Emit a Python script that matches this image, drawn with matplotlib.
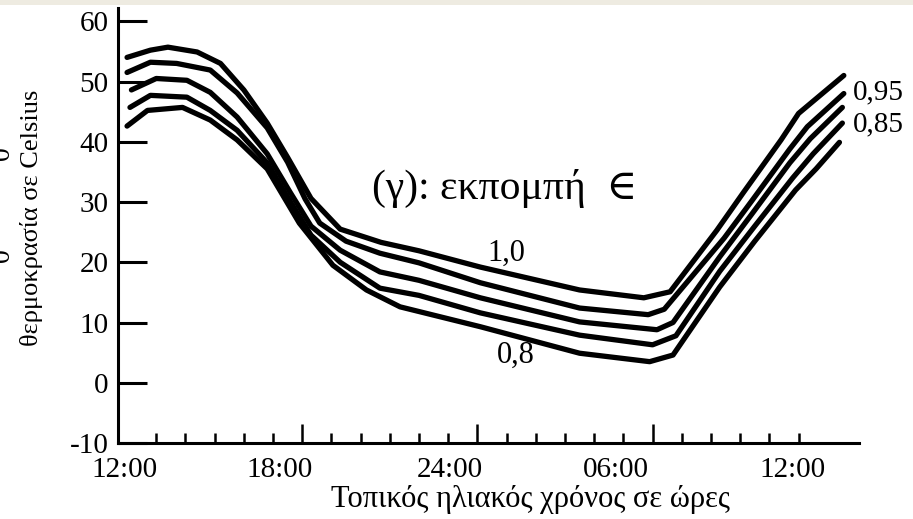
import matplotlib
matplotlib.use("Agg")
import matplotlib.pyplot as plt
from matplotlib.patches import Rectangle

plt.rcParams['font.family'] = ['Liberation Serif', 'DejaVu Serif']

# ---- data (hours after local solar noon, temperature in Celsius) ----
hours_10 = [0.0, 0.8, 1.4, 2.4, 3.2, 4.0, 4.8, 5.5, 6.3, 7.3, 8.7, 10.0, 12.1, 15.5, 17.7, 18.6, 20.2, 21.1, 22.4, 23.0, 24.55]
temp_10 = [54.0, 55.2, 55.7, 54.9, 53.0, 48.6, 43.1, 37.4, 30.6, 25.5, 23.3, 21.9, 19.2, 15.4, 14.1, 15.1, 25.3, 31.5, 40.3, 44.7, 51.0]

hours_095 = [0.0, 0.8, 1.7, 2.85, 3.77, 4.8, 5.5, 6.1, 6.6, 7.5, 8.66, 10.0, 12.1, 15.5, 17.85, 18.4, 20.45, 21.4, 22.7, 23.3, 24.55]
temp_095 = [51.5, 53.2, 53.0, 51.9, 48.1, 42.3, 36.6, 30.5, 26.5, 23.5, 21.5, 19.9, 16.6, 12.4, 11.3, 12.2, 24.0, 30.2, 38.8, 42.5, 48.0]

hours_09 = [0.15, 1.0, 2.05, 2.85, 3.77, 4.8, 5.6, 6.3, 7.3, 8.66, 10.0, 12.1, 15.5, 18.15, 18.7, 20.3, 21.4, 22.7, 23.4, 24.5]
temp_09 = [48.6, 50.5, 50.2, 48.2, 44.1, 38.0, 31.5, 26.0, 22.0, 18.4, 17.0, 14.1, 10.1, 8.8, 10.0, 20.9, 28.0, 36.5, 40.5, 45.7]

hours_085 = [0.1, 0.8, 2.05, 2.85, 3.77, 4.8, 5.6, 6.3, 7.3, 8.66, 10.0, 12.1, 15.5, 18.0, 18.8, 20.3, 21.5, 22.8, 23.5, 24.5]
temp_085 = [45.7, 47.7, 47.4, 45.2, 41.9, 36.5, 30.0, 24.5, 20.0, 15.7, 14.5, 11.6, 7.9, 6.3, 7.8, 18.5, 26.0, 34.0, 38.0, 43.1]

hours_08 = [0.0, 0.7, 1.9, 2.85, 3.77, 4.8, 5.9, 7.05, 8.2, 9.35, 12.1, 15.5, 17.9, 18.7, 20.3, 21.5, 22.9, 23.6, 24.4]
temp_08 = [42.6, 45.2, 45.7, 43.6, 40.3, 35.5, 26.5, 19.5, 15.4, 12.6, 9.3, 4.9, 3.5, 4.6, 15.9, 23.5, 32.0, 35.5, 39.9]

series = [(hours_10, temp_10), (hours_095, temp_095), (hours_09, temp_09),
          (hours_085, temp_085), (hours_08, temp_08)]

y_ticks = [-10, 0, 10, 20, 30, 40, 50, 60]
x_tick_labels = ['12:00', '18:00', '24:00', '06:00', '12:00']
x_label_pos = [-0.1, 5.24, 11.06, 16.75, 22.8]
hour_ticks = [1, 2, 3, 4, 5, 7, 8, 9, 10, 11, 13, 14, 15, 16, 17, 19, 20, 21, 22, 23]
long_ticks = [6, 12, 18]

# ---- figure ----
W, H = 913, 519
fig = plt.figure(figsize=(W / 100, H / 100), dpi=100)
fig.patch.set_facecolor('white')
fig.patches.append(Rectangle((0, 1 - 5 / H), 1, 5 / H, transform=fig.transFigure,
                             facecolor='#eeebe1', edgecolor='none', zorder=0))

ax = fig.add_axes([118 / W, 1 - 443 / H, (859 - 118) / W, (443 - 8) / H])
ax.set_xlim(-0.31, 25.07)
ax.set_ylim(-10, 62.2)

for hx, ty in series:
    ax.plot(hx, ty, color='black', lw=3.8, solid_joinstyle='round',
            solid_capstyle='round', clip_on=False)

for s in ['top', 'right']:
    ax.spines[s].set_visible(False)
for s in ['left', 'bottom']:
    ax.spines[s].set_linewidth(2.2)

ax.set_yticks(y_ticks)
ax.set_yticklabels([str(v) for v in y_ticks])
ax.tick_params(axis='y', direction='in', length=21, width=2.2, pad=7, labelsize=21)

ax.set_xticks(hour_ticks)
ax.set_xticklabels([])
ax.tick_params(axis='x', direction='in', length=7.5, width=1.8)

sec_long = ax.secondary_xaxis('bottom')
sec_long.set_xticks(long_ticks)
sec_long.set_xticklabels([])
sec_long.tick_params(direction='in', length=13.5, width=1.8)
sec_long.spines['bottom'].set_visible(False)

sec_lab = ax.secondary_xaxis('bottom')
sec_lab.set_xticks(x_label_pos)
sec_lab.set_xticklabels(x_tick_labels)
sec_lab.tick_params(length=0, pad=10, labelsize=21)
sec_lab.spines['bottom'].set_visible(False)

fig.text(530 / W, 1 - 500 / H, 'Τοπικός ηλιακός χρόνος σε ώρες',
         ha='center', va='center', fontsize=22)

fig.text(32 / W, 1 - 218 / H, 'θερμοκρασία σε Celsius', rotation=90,
         ha='center', va='center', fontsize=19)
fig.text(3 / W, 1 - 153 / H, '0', rotation=90, ha='center', va='center', fontsize=20)
fig.text(3 / W, 1 - 255 / H, '0', rotation=90, ha='center', va='center', fontsize=20)

ax.text(8.4, 32.3, '(γ): εκπομπή  ∈', fontsize=30, ha='left', va='center')
ax.text(13.0, 21.4, '1,0', fontsize=22, ha='center', va='center')
ax.text(13.3, 4.6, '0,8', fontsize=22, ha='center', va='center')
ax.text(24.86, 48.2, '0,95', fontsize=21, ha='left', va='center')
ax.text(24.86, 42.9, '0,85', fontsize=21, ha='left', va='center')

fig.savefig('out.png', dpi=100, facecolor='white')
